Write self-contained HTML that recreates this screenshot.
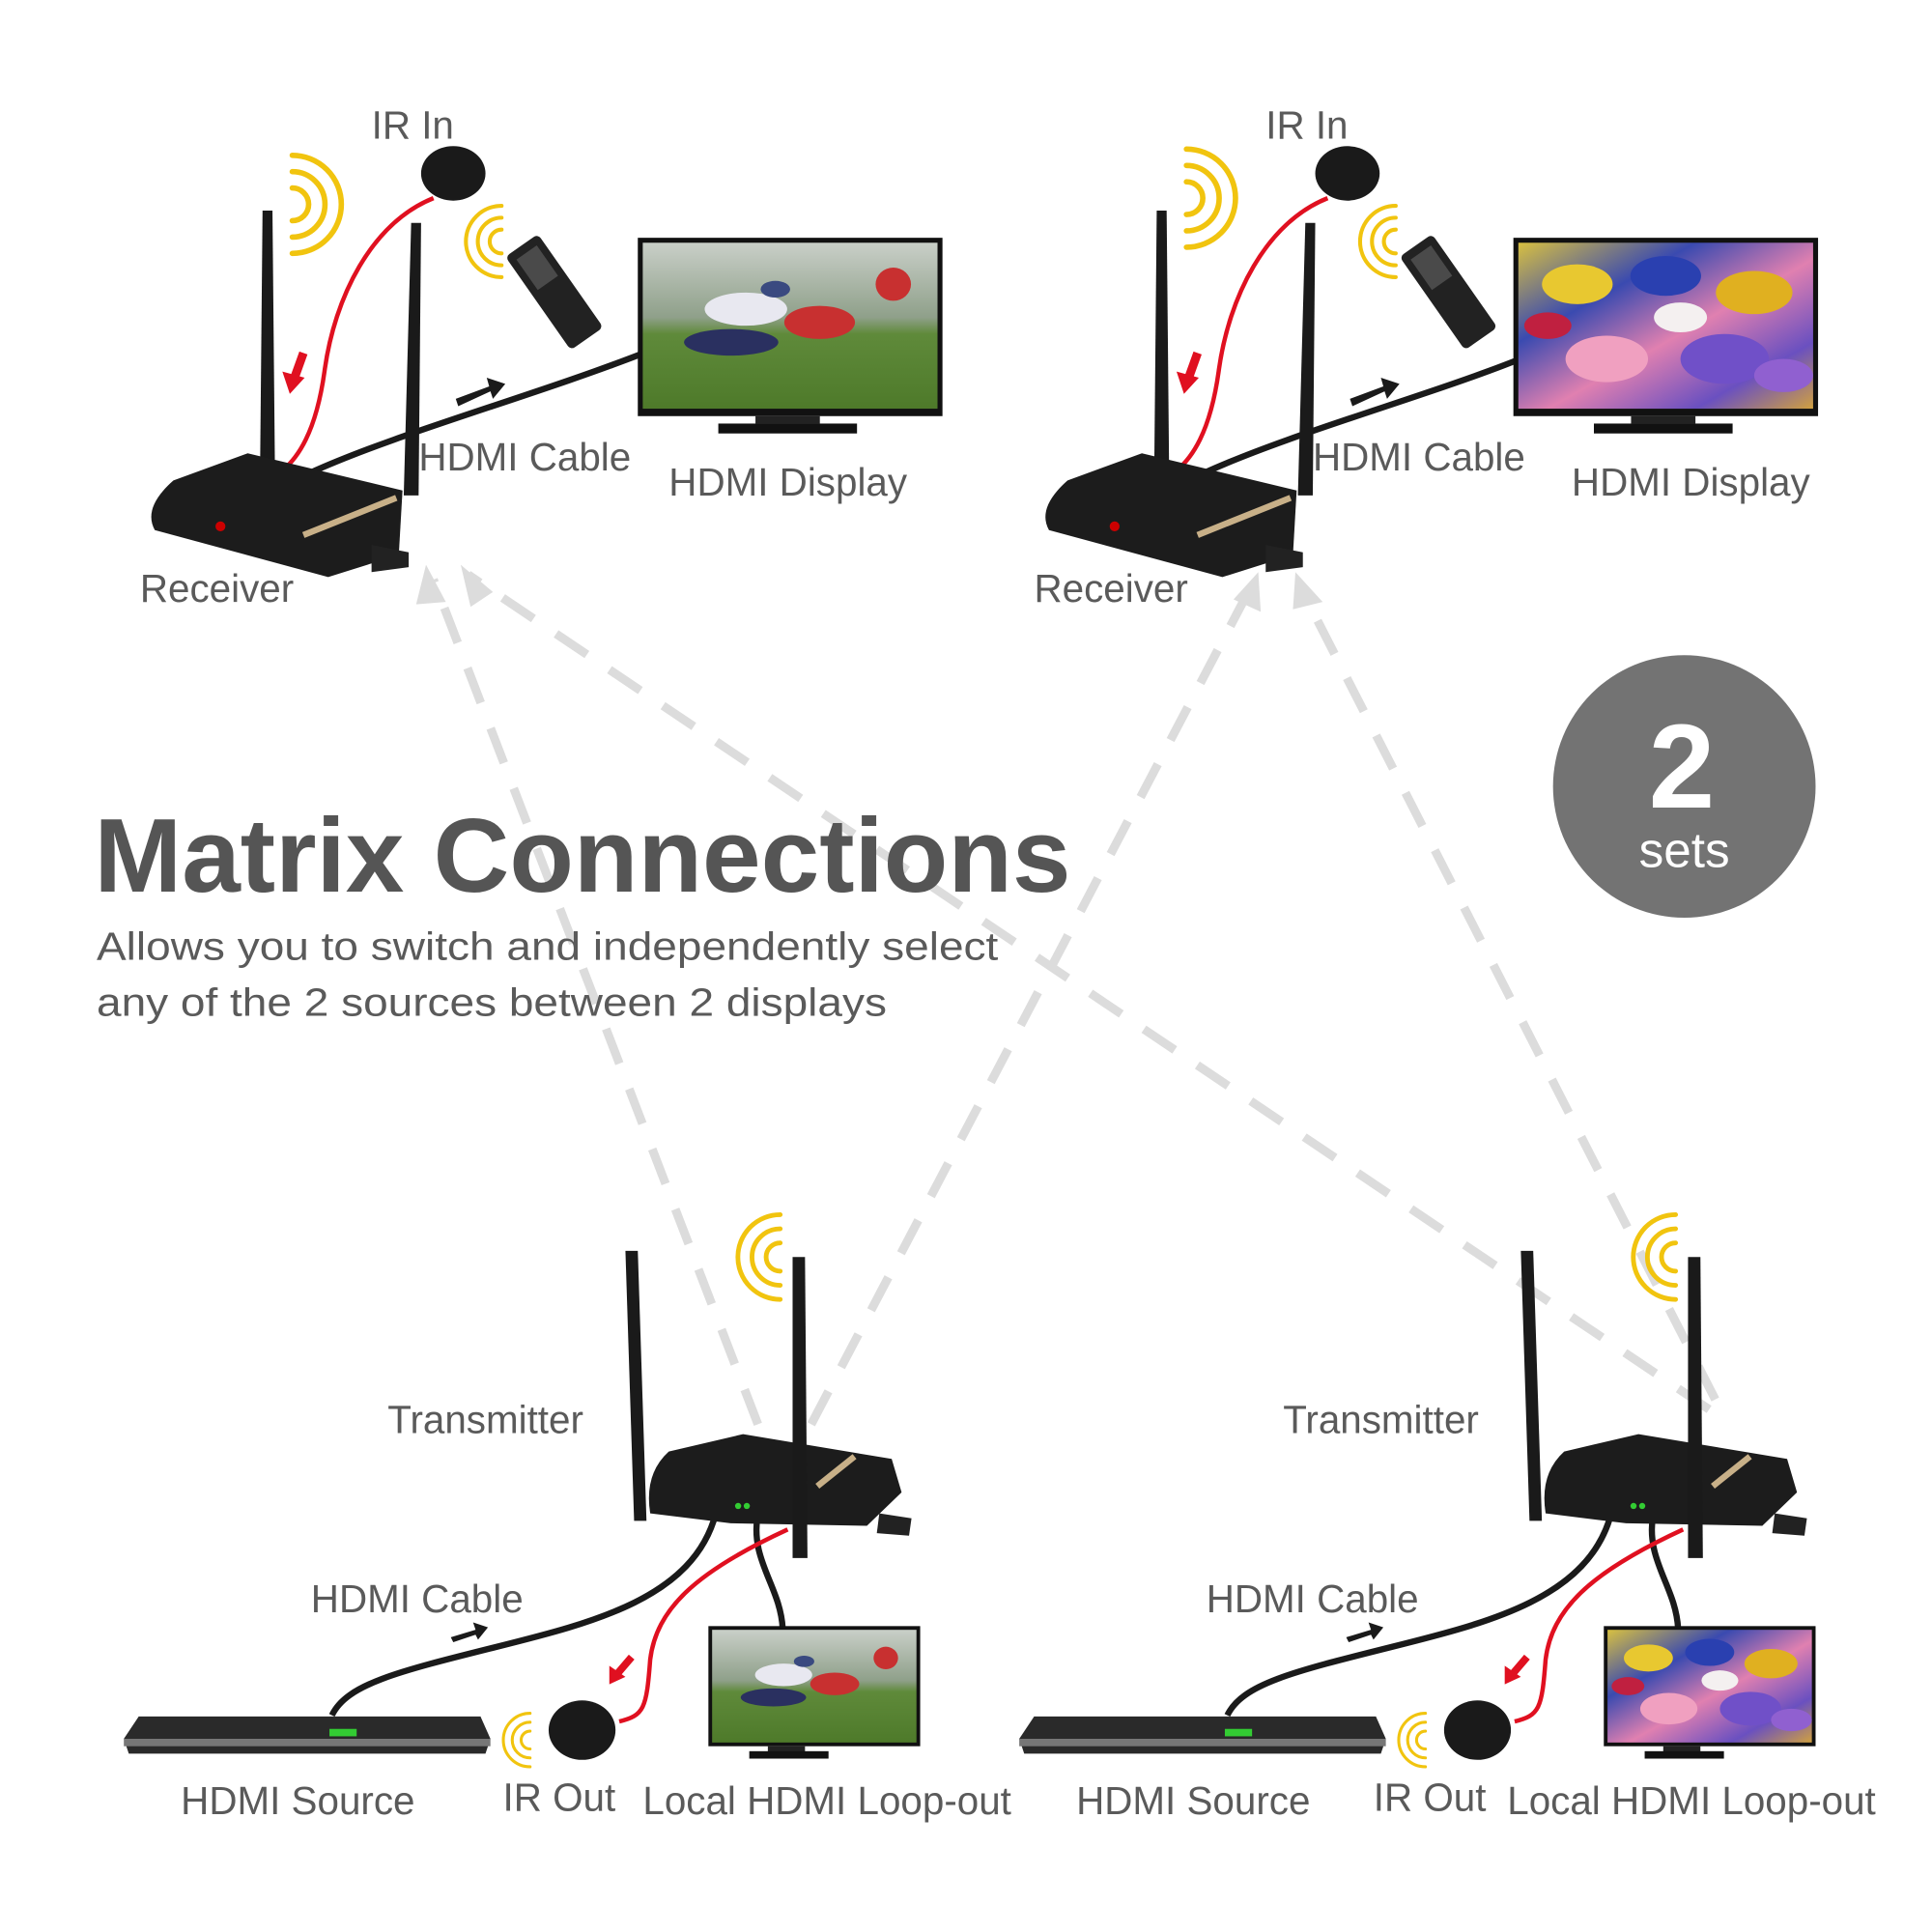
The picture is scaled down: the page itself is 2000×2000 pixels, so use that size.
<!DOCTYPE html>
<html><head><meta charset="utf-8"><style>
html,body{margin:0;padding:0;background:#fff}
svg{display:block}
text{font-family:"Liberation Sans",sans-serif;fill:#5a5a5a}
</style></head><body>
<svg width="2000" height="2000" viewBox="0 0 1560 1560" xmlns="http://www.w3.org/2000/svg">
<defs>
<linearGradient id="field" x1="0" y1="0" x2="0" y2="1">
<stop offset="0" stop-color="#c9cfc8"/><stop offset="0.45" stop-color="#8fa08a"/><stop offset="0.55" stop-color="#5f8a3a"/><stop offset="1" stop-color="#4e7a2a"/></linearGradient>
<linearGradient id="flow" x1="0" y1="0" x2="1" y2="1">
<stop offset="0" stop-color="#d8c040"/><stop offset="0.3" stop-color="#3a4ab0"/><stop offset="0.55" stop-color="#e080b0"/><stop offset="0.8" stop-color="#6a50c0"/><stop offset="1" stop-color="#d0a040"/></linearGradient>
<g id="field-scene">
<rect width="100" height="100" fill="url(#field)"/>
<ellipse cx="35" cy="40" rx="14" ry="10" fill="#e8e8f0"/>
<ellipse cx="30" cy="60" rx="16" ry="8" fill="#2a3060"/>
<ellipse cx="60" cy="48" rx="12" ry="10" fill="#c83030"/>
<ellipse cx="85" cy="25" rx="6" ry="10" fill="#c83030"/>
<circle cx="45" cy="28" r="5" fill="#3a4a80"/>
</g>
<g id="flower-scene">
<rect width="100" height="100" fill="url(#flow)"/>
<circle cx="20" cy="25" r="12" fill="#e8c830"/><circle cx="50" cy="20" r="12" fill="#2a40b0"/>
<circle cx="80" cy="30" r="13" fill="#e0b020"/><circle cx="30" cy="70" r="14" fill="#f0a0c0"/>
<circle cx="70" cy="70" r="15" fill="#7050c8"/><circle cx="10" cy="50" r="8" fill="#c02040"/>
<circle cx="55" cy="45" r="9" fill="#f4f0f0"/><circle cx="90" cy="80" r="10" fill="#9060d0"/>
</g>
<g id="waves" fill="none" stroke="#f1c40f" stroke-width="4" stroke-linecap="round">
<path d="M0,-12 A12,12 0 0 1 0,12"/><path d="M0,-24 A24,24 0 0 1 0,24"/><path d="M0,-36 A36,36 0 0 1 0,36"/>
</g>
</defs>

<g stroke="#dcdcdc" stroke-width="7" stroke-dasharray="30 22" fill="none">
<line x1="612" y1="1150" x2="350" y2="468"/>
<line x1="1380" y1="1138" x2="378" y2="464"/>
<line x1="655" y1="1150" x2="1010" y2="474"/>
<line x1="1385" y1="1130" x2="1050" y2="474"/>
</g>
<g fill="#dcdcdc">
<path d="M344,456 L360,486 L336,488 z"/>
<path d="M372,456 L398,478 L380,490 z"/>
<path d="M1016,462 L1018,494 L996,484 z"/>
<path d="M1046,462 L1068,486 L1044,492 z"/>
</g>

<g id="topset">
<use href="#waves" transform="translate(236,165) scale(1.1)"/>
<use href="#waves" transform="translate(405,195) rotate(180) scale(0.8)"/>
<path d="M350,160 C300,180 270,240 262,300 C255,350 240,370 228,380" stroke="#e01020" stroke-width="3.5" fill="none"/>
<ellipse cx="366" cy="140" rx="26" ry="22" fill="#1a1a1a"/>
<path d="M245,285 L236,310" stroke="#e01020" stroke-width="7"/><path d="M228,300 L234,318 L246,305z" fill="#e01020"/>
<path d="M212,170 L220,170 L222,380 L210,380z" fill="#1a1a1a"/>
<path d="M332,180 L340,180 L338,400 L326,400z" fill="#1a1a1a"/>
<path d="M250,382 C320,350 430,320 520,285" stroke="#1a1a1a" stroke-width="5" fill="none"/>
<path d="M368,322 L395,312 L393,305 L408,310 L398,322 L396,316 L370,328z" fill="#1a1a1a"/>
<g transform="translate(447,235) rotate(-35)"><rect x="-16" y="-45" width="32" height="92" rx="4" fill="#222"/><rect x="-10" y="-38" width="20" height="30" fill="#666" opacity="0.6"/></g>
<path d="M140,388 L200,366 L325,396 L322,448 L265,466 L125,428 Q115,410 140,388z" fill="#1c1c1c"/>
<path d="M245,432 L320,402" stroke="#c8b088" stroke-width="5"/>
<path d="M300,440 L330,446 L330,458 L300,462z" fill="#222"/>
<circle cx="178" cy="425" r="4" fill="#c00"/>
<rect x="515" y="192" width="246" height="144" fill="#111"/>
<use href="#field-scene" transform="translate(519,196) scale(2.38,1.34)"/>
<rect x="610" y="336" width="52" height="6" fill="#222"/><rect x="580" y="342" width="112" height="8" fill="#111"/>
<text x="300" y="112" font-size="31.5">IR In</text>
<text x="338" y="380" font-size="31.5">HDMI Cable</text>
<text x="540" y="400" font-size="31.5">HDMI Display</text>
<text x="113" y="486" font-size="31.5">Receiver</text>
</g>
<g transform="translate(722,0)">
<use href="#waves" transform="translate(236,160) scale(1.1)"/>
<use href="#waves" transform="translate(405,195) rotate(180) scale(0.8)"/>
<path d="M350,160 C300,180 270,240 262,300 C255,350 240,370 228,380" stroke="#e01020" stroke-width="3.5" fill="none"/>
<ellipse cx="366" cy="140" rx="26" ry="22" fill="#1a1a1a"/>
<path d="M245,285 L236,310" stroke="#e01020" stroke-width="7"/><path d="M228,300 L234,318 L246,305z" fill="#e01020"/>
<path d="M212,170 L220,170 L222,380 L210,380z" fill="#1a1a1a"/>
<path d="M332,180 L340,180 L338,400 L326,400z" fill="#1a1a1a"/>
<path d="M250,382 C320,350 430,320 505,290" stroke="#1a1a1a" stroke-width="5" fill="none"/>
<path d="M368,322 L395,312 L393,305 L408,310 L398,322 L396,316 L370,328z" fill="#1a1a1a"/>
<g transform="translate(447,235) rotate(-35)"><rect x="-16" y="-45" width="32" height="92" rx="4" fill="#222"/><rect x="-10" y="-38" width="20" height="30" fill="#666" opacity="0.6"/></g>
<path d="M140,388 L200,366 L325,396 L322,448 L265,466 L125,428 Q115,410 140,388z" fill="#1c1c1c"/>
<path d="M245,432 L320,402" stroke="#c8b088" stroke-width="5"/>
<path d="M300,440 L330,446 L330,458 L300,462z" fill="#222"/>
<circle cx="178" cy="425" r="4" fill="#c00"/>
<rect x="500" y="192" width="246" height="144" fill="#111"/>
<use href="#flower-scene" transform="translate(504,196) scale(2.38,1.34)"/>
<rect x="595" y="336" width="52" height="6" fill="#222"/><rect x="565" y="342" width="112" height="8" fill="#111"/>
<text x="300" y="112" font-size="31.5">IR In</text>
<text x="338" y="380" font-size="31.5">HDMI Cable</text>
<text x="547" y="400" font-size="31.5">HDMI Display</text>
<text x="113" y="486" font-size="31.5">Receiver</text>
</g>

<text x="76" y="720" font-size="85" font-weight="bold" style="fill:#555">Matrix Connections</text>
<text x="78" y="775" font-size="32" textLength="728" lengthAdjust="spacingAndGlyphs">Allows you to switch and independently select</text>
<text x="78" y="820" font-size="32" textLength="638" lengthAdjust="spacingAndGlyphs">any of the 2 sources between 2 displays</text>

<circle cx="1360" cy="635" r="106" fill="#737373"/>
<text x="1358" y="652" font-size="96" font-weight="bold" text-anchor="middle" style="fill:#fff">2</text>
<text x="1360" y="700" font-size="40" text-anchor="middle" style="fill:#fff">sets</text>

<g id="bot">
<use href="#waves" transform="translate(630,1015) rotate(180) scale(0.95)"/>
<use href="#waves" transform="translate(428,1405) rotate(180) scale(0.6)"/>
<path d="M578,1222 C560,1290 480,1310 400,1330 C320,1350 280,1360 268,1385" stroke="#1a1a1a" stroke-width="5" fill="none"/>
<path d="M612,1222 C605,1260 630,1280 632,1315" stroke="#1a1a1a" stroke-width="5" fill="none"/>
<path d="M636,1235 C560,1270 530,1300 525,1340 C522,1380 520,1385 500,1390" stroke="#e01020" stroke-width="3.5" fill="none"/>
<path d="M364,1322 L384,1316 L382,1310 L394,1314 L386,1324 L384,1320 L366,1326z" fill="#1a1a1a"/>
<path d="M510,1338 L498,1352" stroke="#e01020" stroke-width="6"/><path d="M492,1345 L492,1360 L505,1354z" fill="#e01020"/>
<path d="M540,1172 L600,1158 L720,1178 L728,1205 L700,1232 L590,1230 L525,1222 Q520,1190 540,1172z" fill="#1c1c1c"/>
<path d="M660,1200 L690,1176" stroke="#c8b088" stroke-width="5"/>
<path d="M710,1222 L736,1226 L734,1240 L708,1238z" fill="#222"/>
<circle cx="596" cy="1216" r="2.5" fill="#3c3"/><circle cx="603" cy="1216" r="2.5" fill="#3c3"/>
<path d="M505,1010 L515,1010 L522,1228 L512,1228z" fill="#1a1a1a"/>
<path d="M640,1015 L650,1015 L652,1258 L640,1258z" fill="#1a1a1a"/>
<path d="M112,1386 L388,1386 L396,1404 L392,1416 L104,1416 L100,1404z" fill="#2a2a2a"/>
<rect x="100" y="1404" width="296" height="6" fill="#777"/>
<rect x="266" y="1396" width="22" height="6" fill="#3c3"/>
<ellipse cx="470" cy="1397" rx="27" ry="24" fill="#1a1a1a"/>
<rect x="572" y="1313" width="171" height="97" fill="#111"/>
<use href="#field-scene" transform="translate(575,1316) scale(1.65,0.91)"/>
<rect x="620" y="1410" width="30" height="5" fill="#222"/><rect x="605" y="1414" width="64" height="6" fill="#111"/>
<text x="313" y="1157" font-size="31.5">Transmitter</text>
<text x="251" y="1302" font-size="31.5">HDMI Cable</text>
<text x="146" y="1465" font-size="31.5">HDMI Source</text>
<text x="406" y="1462" font-size="31.5">IR Out</text>
<text x="519" y="1465" font-size="31.5">Local HDMI Loop-out</text>
</g>
<g transform="translate(723,0)">
<use href="#waves" transform="translate(630,1015) rotate(180) scale(0.95)"/>
<use href="#waves" transform="translate(428,1405) rotate(180) scale(0.6)"/>
<path d="M578,1222 C560,1290 480,1310 400,1330 C320,1350 280,1360 268,1385" stroke="#1a1a1a" stroke-width="5" fill="none"/>
<path d="M612,1222 C605,1260 630,1280 632,1315" stroke="#1a1a1a" stroke-width="5" fill="none"/>
<path d="M636,1235 C560,1270 530,1300 525,1340 C522,1380 520,1385 500,1390" stroke="#e01020" stroke-width="3.5" fill="none"/>
<path d="M364,1322 L384,1316 L382,1310 L394,1314 L386,1324 L384,1320 L366,1326z" fill="#1a1a1a"/>
<path d="M510,1338 L498,1352" stroke="#e01020" stroke-width="6"/><path d="M492,1345 L492,1360 L505,1354z" fill="#e01020"/>
<path d="M540,1172 L600,1158 L720,1178 L728,1205 L700,1232 L590,1230 L525,1222 Q520,1190 540,1172z" fill="#1c1c1c"/>
<path d="M660,1200 L690,1176" stroke="#c8b088" stroke-width="5"/>
<path d="M710,1222 L736,1226 L734,1240 L708,1238z" fill="#222"/>
<circle cx="596" cy="1216" r="2.5" fill="#3c3"/><circle cx="603" cy="1216" r="2.5" fill="#3c3"/>
<path d="M505,1010 L515,1010 L522,1228 L512,1228z" fill="#1a1a1a"/>
<path d="M640,1015 L650,1015 L652,1258 L640,1258z" fill="#1a1a1a"/>
<path d="M112,1386 L388,1386 L396,1404 L392,1416 L104,1416 L100,1404z" fill="#2a2a2a"/>
<rect x="100" y="1404" width="296" height="6" fill="#777"/>
<rect x="266" y="1396" width="22" height="6" fill="#3c3"/>
<ellipse cx="470" cy="1397" rx="27" ry="24" fill="#1a1a1a"/>
<rect x="572" y="1313" width="171" height="97" fill="#111"/>
<use href="#flower-scene" transform="translate(575,1316) scale(1.65,0.91)"/>
<rect x="620" y="1410" width="30" height="5" fill="#222"/><rect x="605" y="1414" width="64" height="6" fill="#111"/>
<text x="313" y="1157" font-size="31.5">Transmitter</text>
<text x="251" y="1302" font-size="31.5">HDMI Cable</text>
<text x="146" y="1465" font-size="31.5">HDMI Source</text>
<text x="386" y="1462" font-size="31.5">IR Out</text>
<text x="494" y="1465" font-size="31.5">Local HDMI Loop-out</text>
</g>
</svg>
</body></html>
